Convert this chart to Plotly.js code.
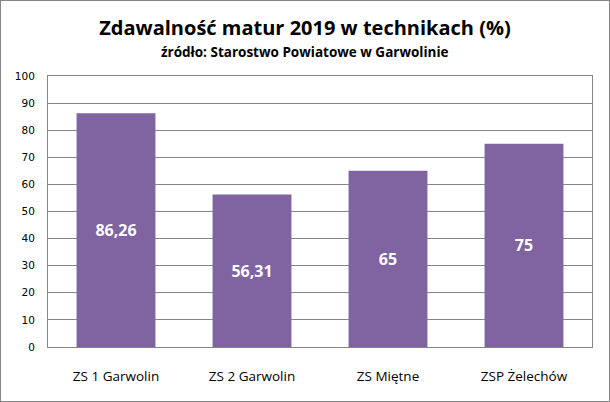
<!DOCTYPE html>
<html><head><meta charset="utf-8">
<script src="https://cdn.plot.ly/plotly-3.0.1.min.js"></script>
<style>
body{margin:0;padding:0;background:#fff;}
#wrap{position:relative;width:610px;height:402px;}
#chart{width:610px;height:402px;}
#frame{position:absolute;left:0;top:0;width:608px;height:400px;border:1px solid #868686;pointer-events:none;}
</style></head>
<body>
<div id="wrap"><div id="chart"></div><div id="frame"></div></div>
<script>
const categories = ["ZS 1 Garwolin", "ZS 2 Garwolin", "ZS Miętne", "ZSP Żelechów"];
const values = [86.26, 56.31, 65, 75];
const labels = ["86,26", "56,31", "65", "75"];
const yTicks = [0,10,20,30,40,50,60,70,80,90,100];

const trace = {
  type: 'bar', x: categories, y: values, text: labels,
  textposition: 'inside', insidetextanchor: 'middle', textangle: 0,
  textfont: {family: 'Open Sans, sans-serif', size: 16, color: '#ffffff', weight: 'bold'},
  marker: {color: '#8064A2'}, width: 0.58, hoverinfo: 'none', cliponaxis: false
};
const layout = {
  width: 610, height: 402,
  margin: {l: 48, r: 18, t: 76, b: 55},
  paper_bgcolor: '#fff', plot_bgcolor: '#fff',
  showlegend: false,
  title: {text: '<b>Zdawalność matur 2019 w technikach (%)</b>', x: 0.5, xanchor: 'center', y: 0.93, yanchor: 'middle',
          font: {family: 'Open Sans, sans-serif', size: 20, color: '#000'}},
  annotations: [{text: '<b>źródło: Starostwo Powiatowe w Garwolinie</b>', xref: 'paper', yref: 'paper',
                 x: 0.5, y: 1, yshift: 24, xshift: -15, showarrow: false, xanchor: 'center', yanchor: 'middle',
                 font: {family: 'Open Sans, sans-serif', size: 13.5, color: '#000'}}],
  xaxis: {type: 'category', showgrid: false, ticks: '', showline: true, linecolor: '#868686', linewidth: 1, mirror: true,
          tickfont: {family: 'Open Sans, sans-serif', size: 13.5, color: '#000'}, ticklabelstandoff: 17},
  yaxis: {range: [0, 100], tickvals: yTicks, ticktext: yTicks.map(String), showgrid: true, gridcolor: '#868686', gridwidth: 1,
          showline: true, linecolor: '#868686', linewidth: 1, mirror: true, zeroline: false,
          ticks: '', ticklabelstandoff: 10,
          tickfont: {family: 'DejaVu Sans, Verdana, sans-serif', size: 10.5, color: '#000'}}
};
Plotly.newPlot('chart', [trace], layout, {staticPlot: true, displayModeBar: false});
</script>
</body></html>
